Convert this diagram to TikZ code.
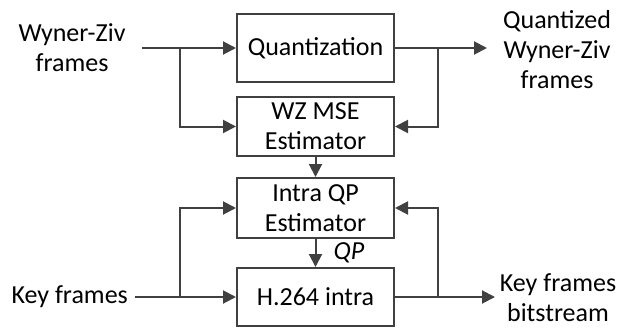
\documentclass[tikz,border=0pt]{standalone}
\usepackage{fontspec}
\setmainfont{Carlito}
\usetikzlibrary{arrows.meta}
\definecolor{lc}{HTML}{404040}
\begin{document}
\begin{tikzpicture}[x=1pt,y=-1pt,
  blk/.style={draw=lc,line width=2pt,minimum width=157pt,inner sep=0pt,align=center,font=\fontsize{26}{30}\selectfont},
  lbl/.style={align=center,inner sep=0pt,font=\fontsize{26}{30}\selectfont},
  conn/.style={draw=lc,line width=2pt,-{Triangle[length=13pt,width=13pt]}},
  seg/.style={draw=lc,line width=2pt}]
\useasboundingbox (0,0) rectangle (624,327);
\node[blk,minimum height=68pt] (q) at (315.5,48) {Quantization};
\node[blk,minimum height=59pt] (m) at (315.5,126.5) {WZ MSE\\Estimator};
\node[blk,minimum height=60pt] (e) at (315.5,208) {Intra QP\\Estimator};
\node[blk,minimum height=58pt] (h) at (315.5,297) {H.264 intra};
\node[lbl] (wz) at (72,48) {Wyner-Ziv\\frames};
\node[lbl] (qwz) at (557,50) {Quantized\\Wyner-Ziv\\frames};
\node[lbl,anchor=east] (kf) at (128,297) {Key frames};
\node[lbl] (kb) at (558,298) {Key frames\\bitstream};
\coordinate (wzs) at (142,48);
\coordinate (b1) at (180,48);
\coordinate (b2) at (438,48);
\coordinate (b3) at (180,297);
\coordinate (b4) at (438,297);
\coordinate (qe) at (487,48);
\coordinate (ke) at (495,297);
\coordinate (kfs) at (135,297);
\draw[conn] (wzs) -- (q.west);
\draw[conn] (b1) |- (m.west);
\draw[conn] (q.east) -- (qe);
\draw[conn] (b2) |- (m.east);
\draw[conn] (m.south) -- (e.north);
\draw[conn] (e.south) -- node[right=17pt,font=\fontsize{26}{30}\selectfont\itshape,inner sep=0pt] (qp) {QP} (h.north);
\draw[conn] (kfs) -- (h.west);
\draw[conn] (b3) |- (e.west);
\draw[conn] (h.east) -- (ke);
\draw[conn] (b4) |- (e.east);
\end{tikzpicture}
\end{document}
